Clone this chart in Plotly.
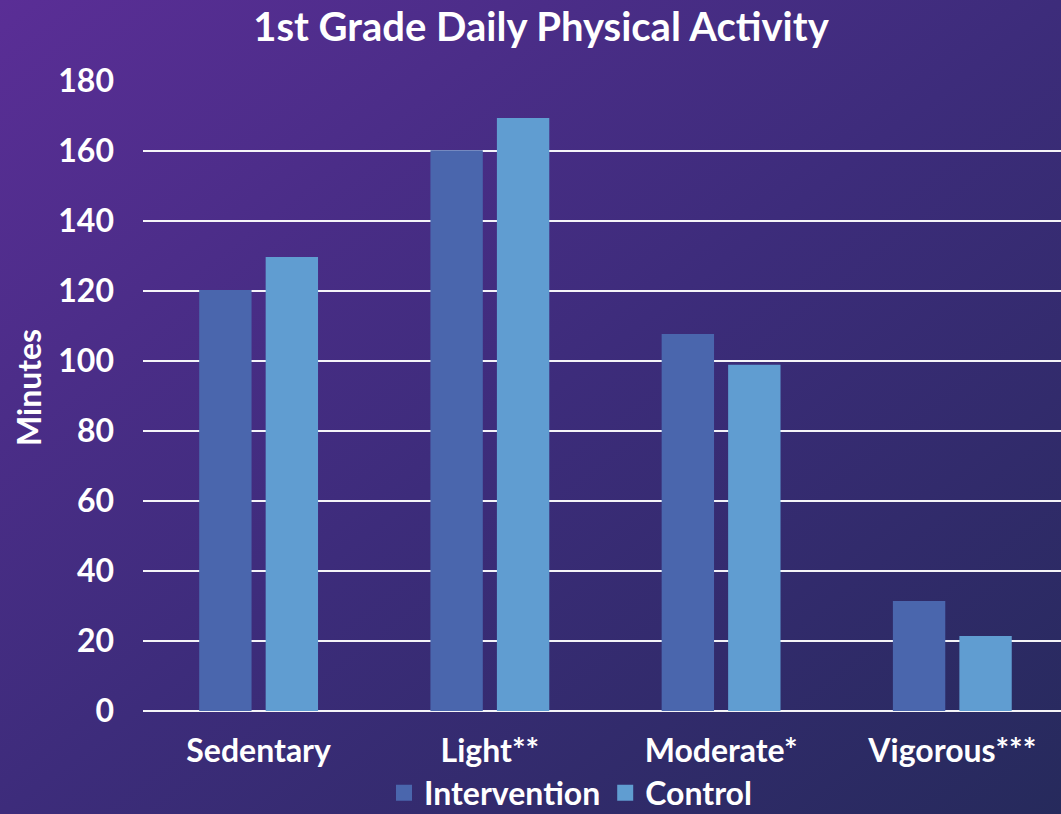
import base64
import plotly.graph_objects as go

# data
categories = ["Sedentary", "Light**", "Moderate*", "Vigorous***"]
intervention = [120.3, 160.2, 107.7, 31.4]
control = [129.7, 169.4, 98.9, 21.4]
y_ticks = [0, 20, 40, 60, 80, 100, 120, 140, 160, 180]

W, H = 1061, 814
L, R, T, B = 143, 0, 81, 103
pw, ph = W - L - R, H - T - B

FONT = "Lato"
WHITE = "#ffffff"
C_INT = "#4a66ad"
C_CTL = "#609dd1"

# diagonal purple -> navy background as an svg gradient
svg = (
    '<svg xmlns="http://www.w3.org/2000/svg" width="1061" height="814" preserveAspectRatio="none">'
    '<defs><linearGradient id="g" x1="0" y1="0" x2="1" y2="1">'
    '<stop offset="0" stop-color="#5a2e96"/>'
    '<stop offset="0.5" stop-color="#3d2c7b"/>'
    '<stop offset="1" stop-color="#262a5c"/>'
    '</linearGradient></defs>'
    '<rect width="1061" height="814" fill="url(#g)"/></svg>'
)
bg_src = "data:image/svg+xml;base64," + base64.b64encode(svg.encode()).decode()


def bold(size):
    return dict(family=FONT, size=size, color=WHITE, weight="bold")


fig = go.Figure()

fig.add_trace(go.Bar(
    x=categories, y=intervention, name="Intervention",
    marker=dict(color=C_INT, line=dict(width=0)),
    showlegend=False,
))
fig.add_trace(go.Bar(
    x=categories, y=control, name="Control",
    marker=dict(color=C_CTL, line=dict(width=0)),
    showlegend=False,
))

# legend-only entries so the swatches come out as big squares
for name, col in [("Intervention", C_INT), ("Control", C_CTL)]:
    fig.add_trace(go.Scatter(
        x=[None], y=[None], mode="markers", name=name,
        marker=dict(symbol="square", size=18, color=col),
    ))

fig.update_layout(
    width=W, height=H,
    margin=dict(l=L, r=R, t=T, b=B, autoexpand=False),
    paper_bgcolor="#3d2c7b",
    plot_bgcolor="rgba(0,0,0,0)",
    barmode="group",
    bargap=0.425,
    bargroupgap=0.212,
    font=bold(32),
    title=dict(
        text="1st Grade Daily Physical Activity",
        x=541 / W, xref="container", xanchor="center",
        y=1 - 27 / H, yref="container", yanchor="middle",
        font=bold(40),
    ),
    xaxis=dict(
        range=[-0.5, 3.47],
        tickfont=bold(32),
        ticklabelstandoff=18,
        showgrid=False,
        showline=False,
        ticks="",
    ),
    yaxis=dict(
        range=[0, 180],
        tickvals=y_ticks,
        tickfont=bold(32),
        ticklabelstandoff=28,
        showgrid=True,
        gridcolor="rgba(255,255,255,0.95)",
        gridwidth=2,
        zeroline=True,
        zerolinecolor="rgba(255,255,255,0.95)",
        zerolinewidth=2,
        showline=False,
        ticks="",
    ),
    legend=dict(
        orientation="h",
        x=(384 - L) / pw, xanchor="left",
        y=-(793 - (T + ph)) / ph, yanchor="middle",
        font=bold(32),
        bgcolor="rgba(0,0,0,0)",
        itemclick=False,
        traceorder="normal",
    ),
    showlegend=True,
    images=[dict(
        source=bg_src, xref="paper", yref="paper",
        x=-L / pw, y=1 + T / ph, sizex=W / pw, sizey=H / ph,
        xanchor="left", yanchor="top", sizing="stretch", layer="below",
    )],
    annotations=[dict(
        text="Minutes", textangle=-90,
        xref="paper", yref="paper",
        x=(28 - L) / pw, y=0.5 + (396 - 388) / ph,
        xanchor="center", yanchor="middle", showarrow=False,
        font=bold(32),
    )],
)

fig.write_html(
    "out.html",
    config={"displayModeBar": False},
    post_script="document.body.style.margin='0';",
)
